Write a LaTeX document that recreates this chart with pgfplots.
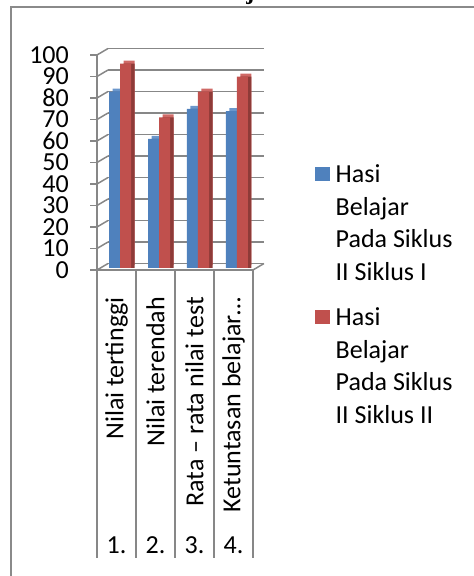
\documentclass[border=0pt]{standalone}
\usepackage{pgfplots}
\pgfplotsset{compat=1.18}
\usepackage{pgfplotstable}
\usepackage{fontspec}
\setmainfont{Carlito}
\newfontfamily\titlefont{Liberation Serif}

\definecolor{cblue}{HTML}{4F81BD}
\definecolor{cred}{HTML}{C0504D}
\definecolor{cblueside}{HTML}{3A6294}
\definecolor{credside}{HTML}{8E3B38}
\definecolor{cbluetop}{HTML}{6B97CC}
\definecolor{credtop}{HTML}{CF6966}
\definecolor{cgrid}{HTML}{878787}
\definecolor{cframe}{HTML}{8A8A8A}

\newcommand\bigfont{\fontsize{26bp}{32.5bp}\selectfont}

\pgfplotstableread{
x s1 s2
1 82 95
2 60 70
3 74 82
4 73 89
}\datatable

\pgfplotsset{
  base/.style={scale only axis, width=156bp, height=215bp,
    xmin=0.5, xmax=4.5, ymin=0, ymax=100, anchor=south west, clip=false},
  sqlegend/.style={legend image code/.code={\fill[##1] (0bp,-16bp) rectangle (15bp,-2bp);}},
}

\begin{document}
\begin{tikzpicture}
\useasboundingbox (0,0) rectangle (474bp,576bp);
% outer frame
\draw[cframe, line width=2bp] (11bp,-20bp) -- (11bp,569bp) -- (500bp,569bp);
% title (mostly cut off)
\node[font=\titlefont\bfseries\fontsize{24bp}{28bp}\selectfont, anchor=base] at (241bp,576.5bp) {Hasil belajar siswa};

% back wall gridlines
\begin{axis}[base, at={(108bp,312.5bp)},
  axis line style={draw=none}, xtick=\empty, ytick={0,10,...,100},
  yticklabels={}, tick style={draw=none},
  ymajorgrids, major grid style={cgrid, line width=1.5bp}]
\end{axis}

% top faces
\begin{axis}[base, at={(104bp,311bp)}, hide axis, ybar=0pt, bar width=11bp]
\addplot[fill=cbluetop, draw=none, bar shift=-5.5bp] table[x=x,y=s1]{\datatable};
\addplot[fill=credtop, draw=none, bar shift=5.5bp] table[x=x,y=s2]{\datatable};
\end{axis}

% side faces + front faces
\begin{axis}[base, at={(100.5bp,308bp)}, hide axis, ybar=0pt, bar width=11bp,
  legend style={at={(axis description cs:1.375,0.481)}, anchor=north west,
    draw=none, fill=none, inner sep=0pt, font=\bigfont, row sep=26bp, column sep=5.5bp,
    cells={anchor=north west, align=left}, nodes={inner sep=0pt}}]
\addplot[fill=cblueside, draw=none, bar shift=-2bp, forget plot] table[x=x,y=s1]{\datatable};
\addplot[fill=credside, draw=none, bar shift=9bp, forget plot] table[x=x,y=s2]{\datatable};
\addplot[fill=cblue, draw=none, bar shift=-5.5bp, sqlegend] table[x=x,y=s1]{\datatable};
\addplot[fill=cred, draw=none, bar shift=5.5bp, sqlegend] table[x=x,y=s2]{\datatable};
\legend{{Hasi\\Belajar\\Pada Siklus\\II Siklus I},
        {Hasi\\Belajar\\Pada Siklus\\II Siklus II}}
\end{axis}

% front axis, ticks, labels
\begin{axis}[base, at={(97bp,306bp)},
  axis x line*=bottom, axis y line*=left, separate axis lines,
  axis line style={cgrid, line width=1.5bp},
  xtick={1,2,3,4},
  xticklabels={Nilai tertinggi, Nilai terendah, Rata – rata nilai test, Ketuntasan belajar…},
  x tick style={draw=none},
  xticklabel style={rotate=90, anchor=east, font=\bigfont, inner sep=0pt},
  xticklabel shift=20bp,
  ytick={0,10,...,100}, tick align=outside, major tick length=7bp,
  y tick style={cgrid, line width=1.5bp},
  yticklabel style={font=\bigfont, inner sep=0pt, xshift=-21bp},
  /pgf/number format/assume math mode=true]
\pgfplotsinvokeforeach{0.5,1.5,2.5,3.5,4.5}{
  \draw[cgrid, line width=1.5bp] (axis cs:#1,0) -- ++(0bp,-288bp);}
\pgfplotsinvokeforeach{0,10,...,100}{
  \draw[cgrid, line width=1.5bp] (axis cs:0.5,#1) -- ++(11bp,6.5bp);}
\draw[cgrid, line width=1.5bp] (axis cs:4.5,0) -- ++(11bp,6.5bp);
\pgfplotsinvokeforeach{1,2,3,4}{
  \node[font=\bigfont, anchor=base] at (axis cs:#1,0) [yshift=-283bp] {#1.};}
\end{axis}
\end{tikzpicture}
\end{document}
